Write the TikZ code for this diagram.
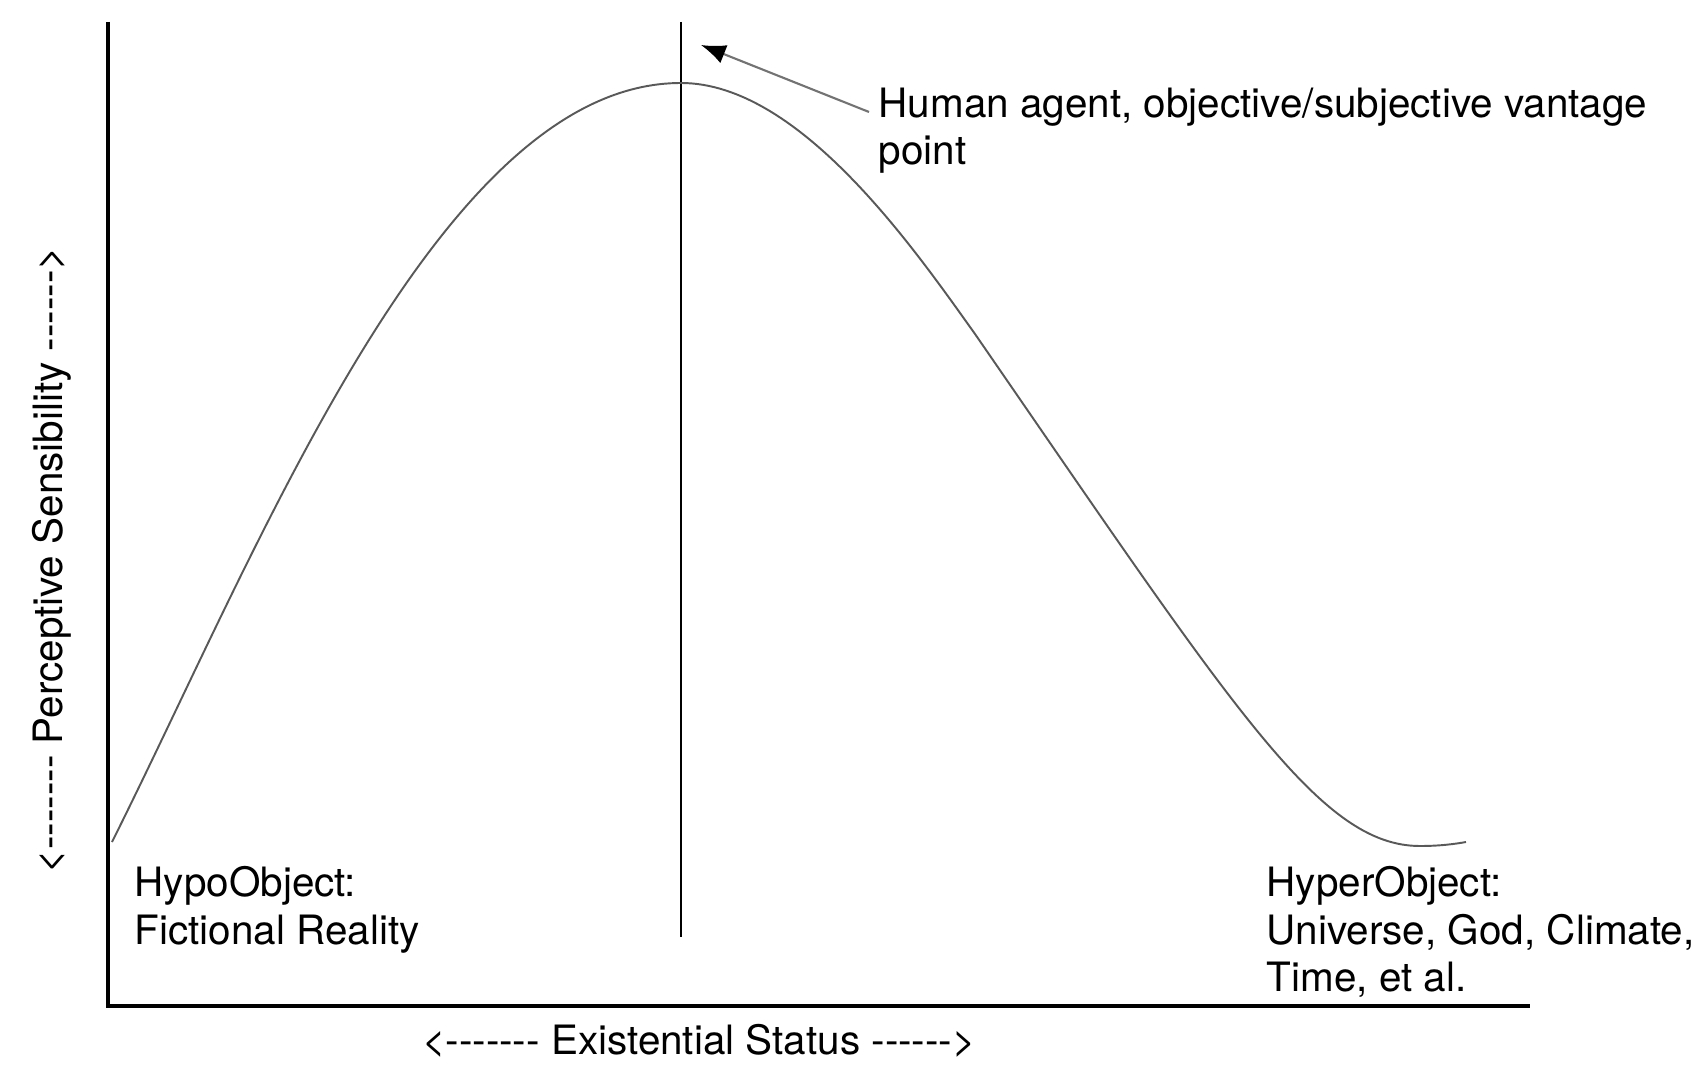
\documentclass[tikz,border=0pt]{standalone}
\usepackage{fontspec}
\newfontfamily\heros{TeX Gyre Heros}
\usetikzlibrary{arrows.meta}

\begin{document}
\begin{tikzpicture}[x=0.01cm, y=-0.01cm, font=\heros\fontsize{11.5}{13.4}\selectfont,
  axis/.style={line width=1.3pt},
  curve/.style={line width=0.55pt, black!65},
  txt/.style={align=left, inner sep=0pt, anchor=north west},
  pointer/.style={-{Latex[length=7pt, width=5.5pt, color=black]}, line width=0.6pt, black!55}]

\useasboundingbox (0,0) rectangle (1704,1080);

% Axes
\coordinate (ytop) at (108,22);
\coordinate (origin) at (108,1006);
\coordinate (xend) at (1530,1006);
\draw[axis] (ytop) -- (origin) -- (xend);

% Vantage line
\coordinate (vtop) at (681,22);
\coordinate (vbot) at (681,937);
\draw[line width=0.7pt] (vtop) -- (vbot);

% Sensibility curve
\coordinate (start) at (112,842);
\coordinate (peak) at (681,83);
\coordinate (bend) at (975,334);
\coordinate (low) at (1420,846);
\coordinate (stop) at (1466,842);
\draw[curve] (start) .. controls (262,542) and (441,83) .. (peak)
  .. controls (800,83) and (915,250) .. (bend)
  .. controls (1235,711) and (1320,846) .. (low)
  .. controls (1440,846) and (1455,844) .. (stop);

% Labels
\node[txt] (human) at (878,87) {Human agent, objective/subjective vantage\\point};
\node[txt] (hypo) at (134,866) {HypoObject:\\Fictional Reality};
\node[txt] (hyper) at (1266,866) {HyperObject:\\Universe, God, Climate,\\Time, et al.};

% Axis titles
\node[anchor=base] (xtitle) at (699,1054) {<------- Existential Status ------>};
\node[anchor=base, rotate=90] (ytitle) at (62,560) {<------- Perceptive Sensibility ------>};

% Pointer to the peak
\coordinate (tail) at (869,112);
\coordinate (tip) at (701,45);
\draw[pointer] (tail) -- (tip);

\end{tikzpicture}
\end{document}
